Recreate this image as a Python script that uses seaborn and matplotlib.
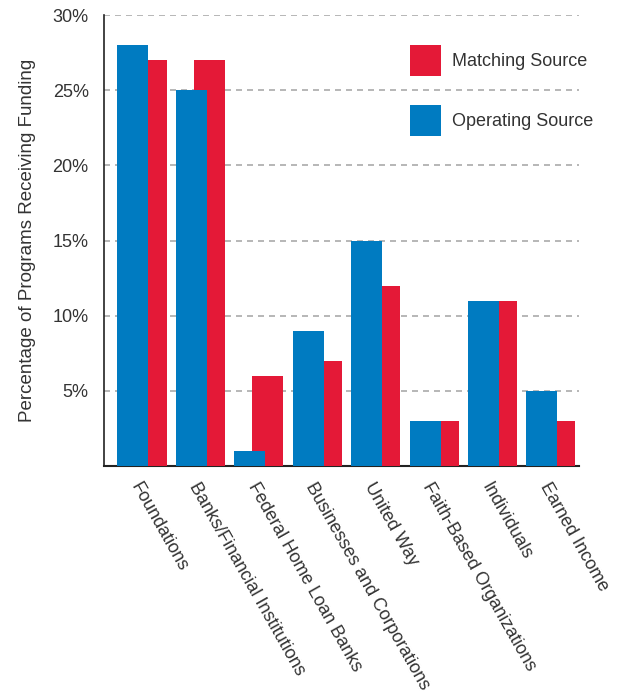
import numpy as np
import pandas as pd
import matplotlib
matplotlib.use('Agg')
import matplotlib.pyplot as plt
import seaborn as sns
from matplotlib.patches import Patch

# datos
categorias = ['Foundations', 'Banks/Financial Institutions', 'Federal Home Loan Banks',
              'Businesses and Corporations', 'United Way', 'Faith-Based Organizations',
              'Individuals', 'Earned Income']
operating = [28, 25, 1, 9, 15, 3, 11, 5]
matching = [27, 27, 6, 7, 12, 3, 11, 3]
yticks = [5, 10, 15, 20, 25, 30]
ytick_labels = ['5%', '10%', '15%', '20%', '25%', '30%']

azul = '#007BC1'
rojo = '#E41937'

sns.set_theme(style='white')
plt.rcParams['font.family'] = ['Liberation Sans', 'DejaVu Sans']

pos = np.arange(len(categorias))
df_op = pd.DataFrame({'x': pos - 0.155, 'valor': operating})
df_ma = pd.DataFrame({'x': pos + 0.155, 'valor': matching})

fig = plt.figure(figsize=(6.19, 6.98), dpi=100)
ax = fig.add_axes([104 / 619, 1 - 466 / 698, (579 - 104) / 619, (466 - 15) / 698])

# rojo primero, azul encima
sns.barplot(data=df_ma, x='x', y='valor', native_scale=True, width=0.53,
            color=rojo, saturation=1, linewidth=0, ax=ax, zorder=3)
sns.barplot(data=df_op, x='x', y='valor', native_scale=True, width=0.53,
            color=azul, saturation=1, linewidth=0, ax=ax, zorder=4)

ax.set_xlim(-0.65, 7.48)
ax.set_ylim(0, 30)

# lineas de guia
ax.set_yticks(yticks)
ax.set_yticklabels(ytick_labels, fontsize=13, color='#333333')
ax.yaxis.grid(True, color='#aaaaaa', linestyle=(0, (3.6, 3)), linewidth=1.2, zorder=0)
ax.set_axisbelow(True)

ax.set_xticks(pos)
ax.set_xticklabels(categorias, rotation=-60.5, ha='left', va='top',
                   rotation_mode='anchor', fontsize=13, color='#333333')
ax.tick_params(axis='both', length=0)
ax.tick_params(axis='y', pad=11)
ax.tick_params(axis='x', pad=10)

ax.set_xlabel('')
ax.set_ylabel('Percentage of Programs Receiving Funding', fontsize=13.5,
              color='#333333', labelpad=12)

for lado in ['top', 'right']:
    ax.spines[lado].set_visible(False)
ax.spines['left'].set_color('#222222')
ax.spines['left'].set_linewidth(1.2)
ax.spines['bottom'].set_color('#222222')
ax.spines['bottom'].set_linewidth(1.5)

handles = [Patch(facecolor=rojo, edgecolor='none', label='Matching Source'),
           Patch(facecolor=azul, edgecolor='none', label='Operating Source')]
ax.legend(handles=handles, loc='upper left', bbox_to_anchor=(0.644, 0.9335),
          frameon=False, fontsize=13, handlelength=1.72, handleheight=2.26,
          handletextpad=0.6, labelspacing=1.6, borderpad=0, borderaxespad=0,
          labelcolor='#333333')

fig.savefig('out.png', dpi=100)
